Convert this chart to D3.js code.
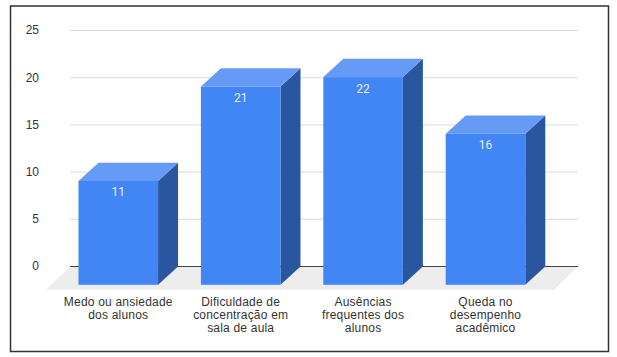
<!DOCTYPE html>
<html>
<head>
<meta charset="utf-8">
<script src="https://cdn.jsdelivr.net/npm/d3@7"></script>
<style>
  html, body { margin: 0; padding: 0; background: #fff; }
  svg { display: block; }
  text { font-family: "Liberation Sans", Arial, sans-serif; }
</style>
</head>
<body>
<svg id="chart" width="617" height="357"></svg>
<script>
const categories = [
  "Medo ou ansiedade dos alunos",
  "Dificuldade de concentração em sala de aula",
  "Ausências frequentes dos alunos",
  "Queda no desempenho acadêmico"
];
const categoryLines = [
  ["Medo ou ansiedade", "dos alunos"],
  ["Dificuldade de", "concentração em", "sala de aula"],
  ["Ausências", "frequentes dos", "alunos"],
  ["Queda no", "desempenho", "acadêmico"]
];
const values = [11, 21, 22, 16];
const yTicks = [0, 5, 10, 15, 20, 25];

const depthX = 20, depthY = 18.3;     // bar depth
const floorX = 24, floorY = 23.2;     // floor reaches a bit further out
const plotLeft = 70, plotRight = 578;

const svg = d3.select("#chart");

svg.append("rect")
  .attr("x", 10.5).attr("y", 6)
  .attr("width", 598).attr("height", 345.5)
  .attr("fill", "#fff")
  .attr("stroke", "#333")
  .attr("stroke-width", 1.5);

const y = d3.scaleLinear().domain([0, 25]).range([266.5, 30.5]);
const x = d3.scaleBand()
  .domain(categories)
  .range([78.5, 525.3])
  .paddingInner(0.35)
  .paddingOuter(0);

// floor
svg.append("path")
  .attr("fill", "#ededed")
  .attr("d", d3.line()([
    [plotLeft, y(0)],
    [plotRight, y(0)],
    [plotRight - floorX, y(0) + floorY],
    [plotLeft - floorX, y(0) + floorY]
  ]) + "Z");

// grid and value axis
const axis = svg.append("g")
  .attr("transform", `translate(${plotLeft},0)`)
  .call(d3.axisLeft(y)
    .offset(0)
    .tickValues(yTicks)
    .tickSize(-(plotRight - plotLeft))
    .tickPadding(31));
axis.select(".domain").remove();
axis.selectAll(".tick line")
  .attr("stroke", d => d === 0 ? "#444" : "#d9d9d9");
axis.selectAll(".tick text")
  .attr("fill", "#333")
  .style("font-size", "12px");

// bars
const bars = svg.selectAll(".bar")
  .data(values.map((v, i) => ({ name: categories[i], value: v })))
  .join("g")
  .attr("class", "bar");

const poly = pts => d3.line()(pts) + "Z";

// side
bars.append("path")
  .attr("fill", "#2a56a0")
  .attr("d", d => {
    const r = x(d.name) + x.bandwidth();
    return poly([
      [r, y(d.value) + depthY],
      [r + depthX, y(d.value)],
      [r + depthX, y(0)],
      [r, y(0) + depthY]
    ]);
  });

// top
bars.append("path")
  .attr("fill", "#659bf6")
  .attr("d", d => {
    const l = x(d.name), r = l + x.bandwidth();
    return poly([
      [l, y(d.value) + depthY],
      [l + depthX, y(d.value)],
      [r + depthX, y(d.value)],
      [r, y(d.value) + depthY]
    ]);
  });

// front
bars.append("rect")
  .attr("fill", "#4285f4")
  .attr("x", d => x(d.name))
  .attr("y", d => y(d.value) + depthY)
  .attr("width", x.bandwidth())
  .attr("height", d => y(0) - y(d.value));

bars.append("text")
  .attr("x", d => x(d.name) + x.bandwidth() / 2)
  .attr("y", d => y(d.value) + depthY + 15.5)
  .attr("text-anchor", "middle")
  .attr("fill", "#e8f0fe")
  .style("font-family", "Roboto, sans-serif")
  .style("font-size", "12px")
  .text(d => d.value);

// category labels
const labels = svg.selectAll(".cat")
  .data(categories)
  .join("text")
  .attr("class", "cat")
  .attr("text-anchor", "middle")
  .attr("fill", "#333")
  .style("font-size", "12px")
  .style("letter-spacing", "0.2px");

labels.each(function(d, i) {
  d3.select(this).selectAll("tspan")
    .data(categoryLines[i])
    .join("tspan")
    .attr("x", x(d) + x.bandwidth() / 2)
    .attr("y", (_, k) => 306 + k * 13.2)
    .text(t => t);
});
</script>
</body>
</html>
